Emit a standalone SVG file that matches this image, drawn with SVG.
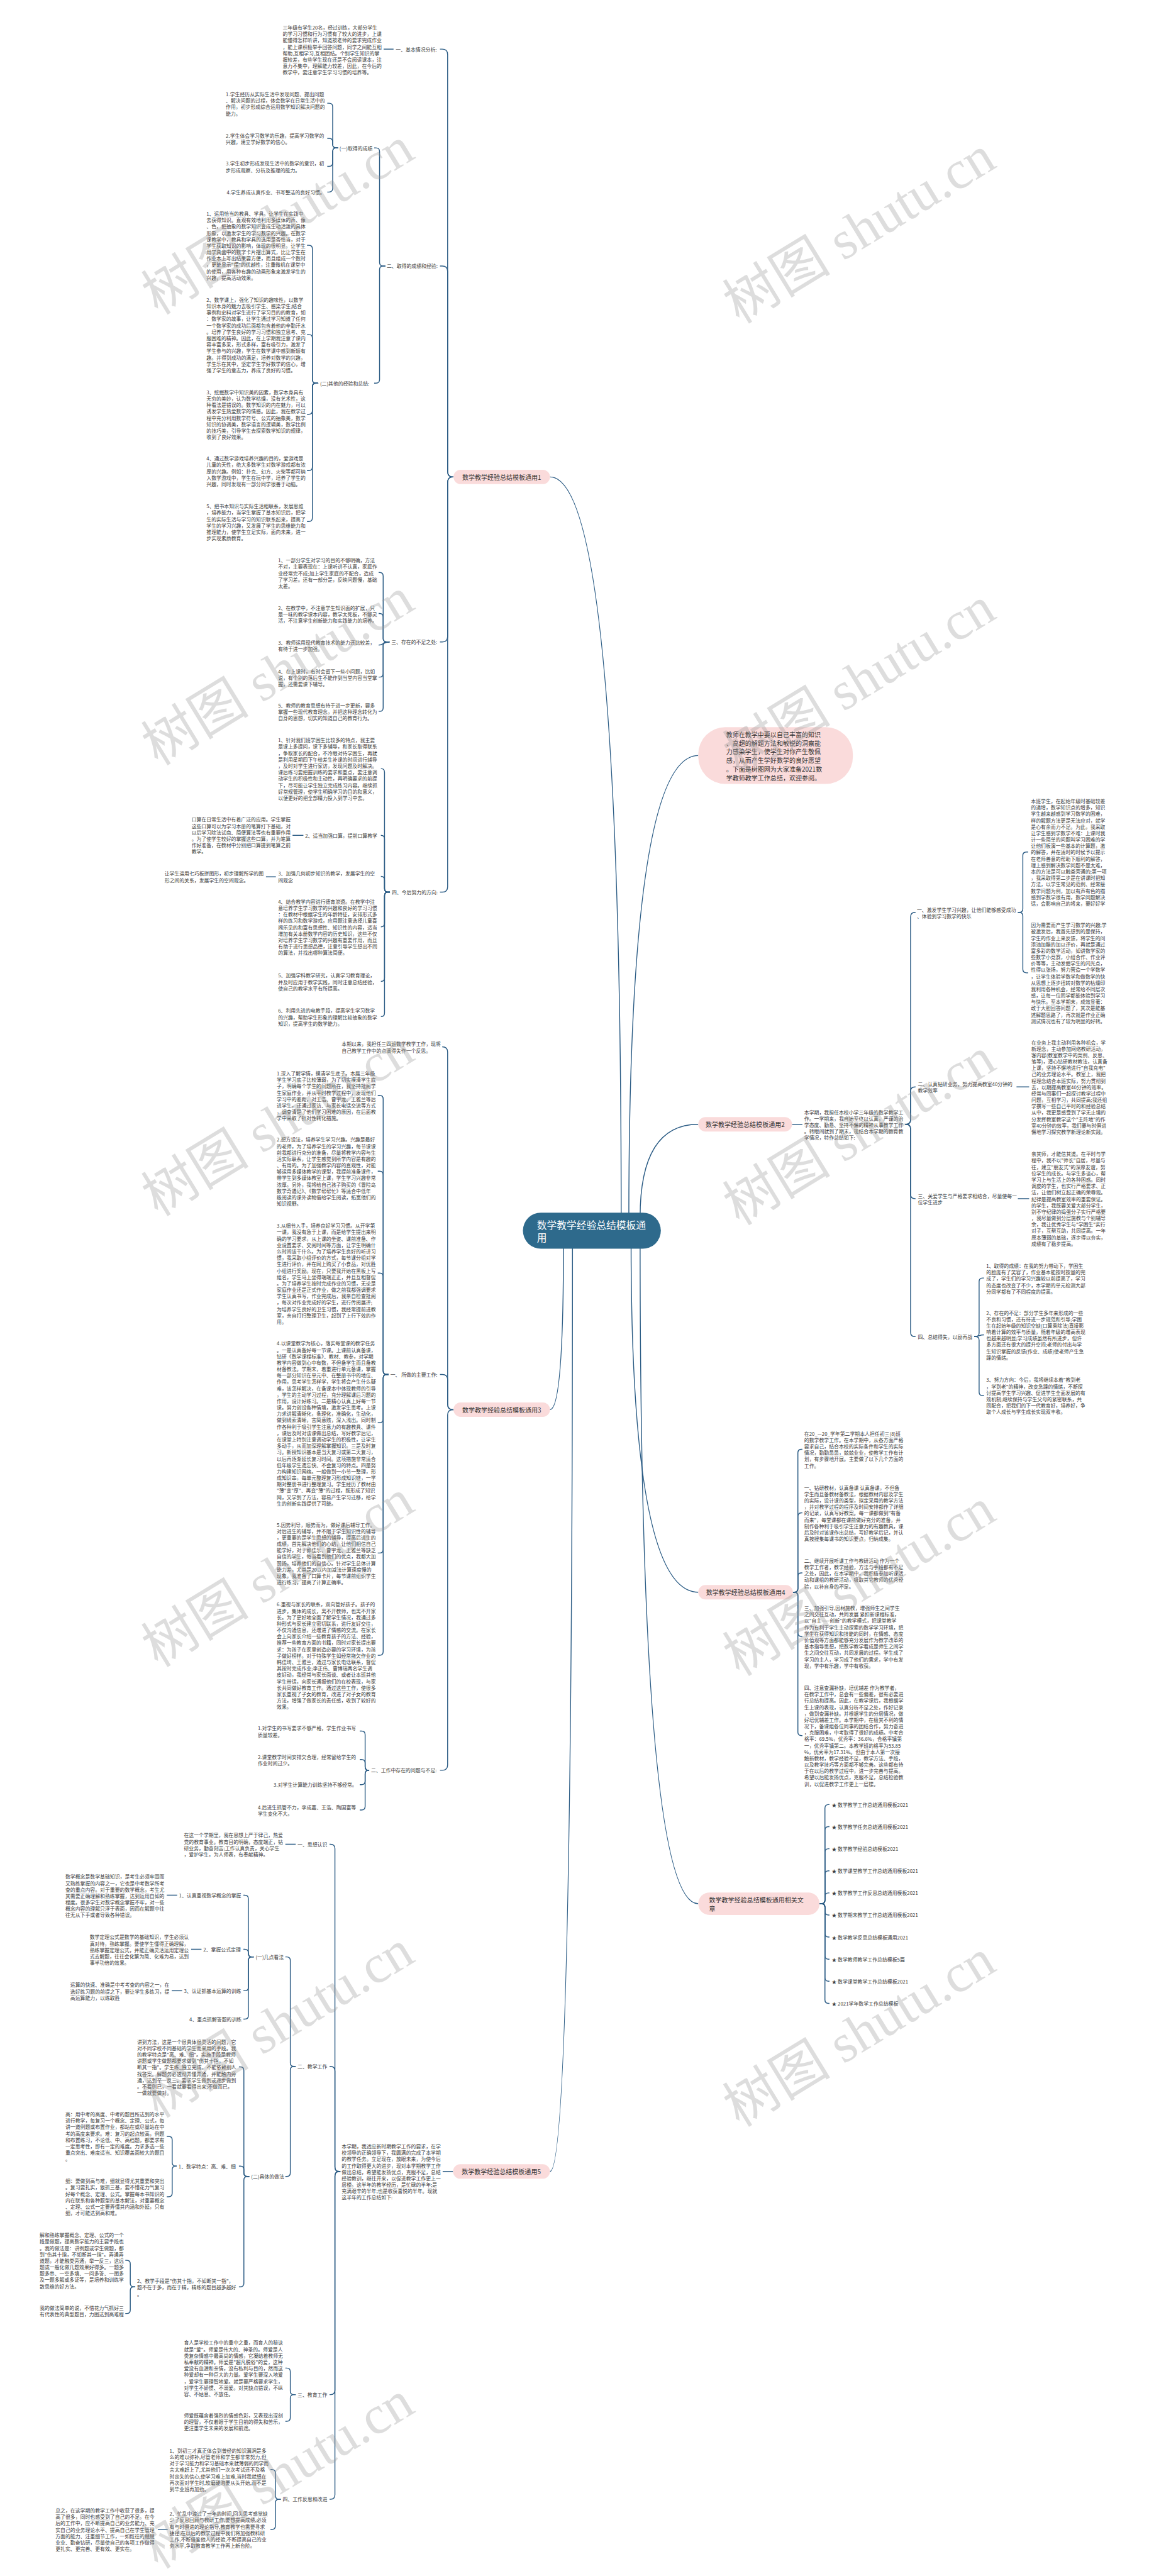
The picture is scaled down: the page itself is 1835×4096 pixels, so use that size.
<svg xmlns="http://www.w3.org/2000/svg" width="1835" height="4096" viewBox="0 0 1835 4096">
<style>
.t{font-family:"Noto Sans CJK SC","Noto Sans",sans-serif;font-size:11px;fill:#3a3a3a;dominant-baseline:central}
.pt{font-family:"Noto Sans CJK SC","Noto Sans",sans-serif;font-size:14px;fill:#333;dominant-baseline:central}
.rt{font-family:"Noto Sans CJK SC","Noto Sans",sans-serif;font-size:22px;fill:#fff;dominant-baseline:central}
.pill{fill:#fadbdb}
.l{fill:none;stroke:#2a5b84;stroke-width:2}
.wm{font-family:"Liberation Serif","Noto Sans CJK SC",serif;font-size:120px;fill:#9a9a9a;opacity:0.33}
</style>
<rect width="1835" height="4096" fill="#fff"/>
<g transform="scale(0.7168)">
<g id="connectors">
<path class="l" d="M1378 2700 Q1378 1058 1220 1058"/>
<path class="l" d="M1395 2700 Q1395 1676 1549 1676"/>
<path class="l" d="M1420 2700 Q1420 2494 1549 2494"/>
<path class="l" d="M1250 2760 Q1250 3127 1220 3127"/>
<path class="l" d="M1270 2760 Q1270 4817 1220 4817"/>
<path class="l" d="M1400 2760 Q1400 3532 1549 3532"/>
<path class="l" d="M1420 2760 Q1420 4223 1549 4223"/>
<path class="l" d="M1006 1058 H1005 Q993 1058 993 1046 V121 Q993 109 981 109 H976"/>
<path class="l" d="M1006 1058 H1005 Q993 1058 993 1046 V602 Q993 590 981 590 H976"/>
<path class="l" d="M1006 1058 H1005 Q993 1058 993 1070 V1412 Q993 1424 981 1424 H976"/>
<path class="l" d="M1006 1058 H1005 Q993 1058 993 1070 V1967 Q993 1979 981 1979 H976"/>
<path class="l" d="M873 109 H851"/>
<path class="l" d="M855 590 H850 Q842 590 842 582 V336 Q842 328 834 328 H830"/>
<path class="l" d="M855 590 H850 Q842 590 842 598 V842 Q842 850 834 850 H830"/>
<path class="l" d="M750 328 H746 Q738 328 738 320 V237 Q738 229 730 229 H726"/>
<path class="l" d="M750 328 H746 Q738 328 738 320 V315 Q738 307 730 307 H726"/>
<path class="l" d="M750 328 H746 Q738 328 738 336 V361 Q738 369 730 369 H726"/>
<path class="l" d="M750 328 H746 Q738 328 738 336 V418 Q738 426 730 426 H726"/>
<path class="l" d="M706 850 H701 Q693 850 693 842 V552 Q693 544 685 544 H681"/>
<path class="l" d="M706 850 H701 Q693 850 693 842 V750 Q693 742 685 742 H681"/>
<path class="l" d="M706 850 H701 Q693 850 693 858 V911 Q693 919 685 919 H681"/>
<path class="l" d="M706 850 H701 Q693 850 693 858 V1036 Q693 1044 685 1044 H681"/>
<path class="l" d="M706 850 H701 Q693 850 693 858 V1149 Q693 1157 685 1157 H681"/>
<path class="l" d="M864 1424 H858 Q850 1424 850 1416 V1278 Q850 1270 842 1270 H840"/>
<path class="l" d="M864 1424 H858 Q850 1424 850 1416 V1369 Q850 1361 842 1361 H840"/>
<path class="l" d="M864 1424 C850 1424 850 1431 840 1431"/>
<path class="l" d="M864 1424 H858 Q850 1424 850 1432 V1494 Q850 1502 842 1502 H840"/>
<path class="l" d="M864 1424 H858 Q850 1424 850 1432 V1570 Q850 1578 842 1578 H840"/>
<path class="l" d="M865 1979 H861 Q853 1979 853 1971 V1713 Q853 1705 845 1705"/>
<path class="l" d="M865 1979 H861 Q853 1979 853 1971 V1861 Q853 1853 845 1853"/>
<path class="l" d="M865 1979 H861 Q853 1979 853 1971 V1952 Q853 1944 845 1944"/>
<path class="l" d="M865 1979 H861 Q853 1979 853 1987 V2048 Q853 2056 845 2056"/>
<path class="l" d="M865 1979 H861 Q853 1979 853 1987 V2169 Q853 2177 845 2177"/>
<path class="l" d="M865 1979 H861 Q853 1979 853 1987 V2247 Q853 2255 845 2255"/>
<path class="l" d="M673 1853 H649"/>
<path class="l" d="M612 1945 H590"/>
<path class="l" d="M1006 3127 H1005 Q993 3127 993 3115 V2334 Q993 2322 981 2322"/>
<path class="l" d="M1006 3127 H1005 Q993 3127 993 3115 V3061 Q993 3049 981 3049 H976"/>
<path class="l" d="M1006 3127 H1005 Q993 3127 993 3139 V3915 Q993 3927 981 3927 H976"/>
<path class="l" d="M862 3049 H858 Q850 3049 850 3041 V2438 Q850 2430 842 2430 H838"/>
<path class="l" d="M862 3049 H858 Q850 3049 850 3041 V2606 Q850 2598 842 2598 H838"/>
<path class="l" d="M862 3049 H858 Q850 3049 850 3041 V2832 Q850 2824 842 2824 H838"/>
<path class="l" d="M862 3049 H858 Q850 3049 850 3057 V3148 Q850 3156 842 3156 H838"/>
<path class="l" d="M862 3049 H858 Q850 3049 850 3057 V3437 Q850 3445 842 3445 H838"/>
<path class="l" d="M862 3049 H858 Q850 3049 850 3057 V3664 Q850 3672 842 3672 H838"/>
<path class="l" d="M819 3927 H818 Q810 3927 810 3919 V3848 Q810 3840 802 3840 H798"/>
<path class="l" d="M819 3927 H818 Q810 3927 810 3919 V3911 Q810 3903 802 3903 H798"/>
<path class="l" d="M819 3927 H818 Q810 3927 810 3935 V3951 Q810 3959 802 3959 H798"/>
<path class="l" d="M819 3927 H818 Q810 3927 810 3935 V4007 Q810 4015 802 4015 H798"/>
<path class="l" d="M1005 4817 H982"/>
<path class="l" d="M755 4817 H753 Q743 4817 743 4807 V4101 Q743 4091 733 4091 H731"/>
<path class="l" d="M755 4817 H753 Q743 4817 743 4807 V4594 Q743 4584 733 4584 H731"/>
<path class="l" d="M755 4817 H753 Q743 4817 743 4827 V5302 Q743 5312 733 5312 H731"/>
<path class="l" d="M755 4817 H753 Q743 4817 743 4827 V5534 Q743 5544 733 5544 H731"/>
<path class="l" d="M656 4091 H633"/>
<path class="l" d="M656 4584 H652 Q644 4584 644 4576 V4349 Q644 4341 636 4341 H633"/>
<path class="l" d="M656 4584 H652 Q644 4584 644 4592 V4820 Q644 4828 636 4828 H633"/>
<path class="l" d="M563 4341 H559 Q551 4341 551 4333 V4212 Q551 4204 543 4204 H540"/>
<path class="l" d="M563 4341 H559 Q551 4341 551 4333 V4332 Q551 4324 543 4324 H540"/>
<path class="l" d="M563 4341 H559 Q551 4341 551 4349 V4408 Q551 4416 543 4416 H540"/>
<path class="l" d="M563 4341 H559 Q551 4341 551 4349 V4471 Q551 4479 543 4479 H540"/>
<path class="l" d="M393 4204 H370"/>
<path class="l" d="M447 4324 H424"/>
<path class="l" d="M404 4416 H381"/>
<path class="l" d="M553 4828 H549 Q541 4828 541 4820 V4593 Q541 4585 533 4585 H530"/>
<path class="l" d="M553 4828 H549 Q541 4828 541 4820 V4813 Q541 4805 533 4805 H530"/>
<path class="l" d="M553 4828 H549 Q541 4828 541 4836 V5065 Q541 5073 533 5073 H530"/>
<path class="l" d="M392 4805 H390 Q382 4805 382 4797 V4747 Q382 4739 374 4739 H370"/>
<path class="l" d="M392 4805 H390 Q382 4805 382 4813 V4865 Q382 4873 374 4873 H370"/>
<path class="l" d="M300 5073 H297 Q289 5073 289 5065 V5022 Q289 5014 281 5014 H278"/>
<path class="l" d="M300 5073 H297 Q289 5073 289 5081 V5124 Q289 5132 281 5132 H278"/>
<path class="l" d="M656 5312 H652 Q644 5312 644 5304 V5261 Q644 5253 636 5253 H633"/>
<path class="l" d="M656 5312 H652 Q644 5312 644 5320 V5363 Q644 5371 636 5371 H633"/>
<path class="l" d="M623 5544 H619 Q611 5544 611 5536 V5486 Q611 5478 603 5478 H600"/>
<path class="l" d="M623 5544 H619 Q611 5544 611 5552 V5603 Q611 5611 603 5611 H600"/>
<path class="l" d="M372 5611 H350"/>
<path class="l" d="M1757 2494 H1780"/>
<path class="l" d="M2008 2494 H2010 Q2020 2494 2020 2484 V2034 Q2020 2024 2030 2024 H2031"/>
<path class="l" d="M2008 2494 H2010 Q2020 2494 2020 2484 V2421 Q2020 2411 2030 2411 H2031"/>
<path class="l" d="M2008 2494 H2010 Q2020 2494 2020 2504 V2649 Q2020 2659 2030 2659 H2031"/>
<path class="l" d="M2008 2494 H2010 Q2020 2494 2020 2504 V2955 Q2020 2965 2030 2965 H2031"/>
<path class="l" d="M2258 2024 H2261 Q2269 2024 2269 2016 V1898 Q2269 1890 2277 1890 H2281"/>
<path class="l" d="M2258 2024 H2261 Q2269 2024 2269 2032 V2150 Q2269 2158 2277 2158 H2281"/>
<path class="l" d="M2255 2411 H2283"/>
<path class="l" d="M2258 2659 H2283"/>
<path class="l" d="M2161 2965 H2164 Q2172 2965 2172 2957 V2843 Q2172 2835 2180 2835 H2183"/>
<path class="l" d="M2161 2965 C2172 2965 2172 2961 2183 2961"/>
<path class="l" d="M2161 2965 H2164 Q2172 2965 2172 2973 V3088 Q2172 3096 2180 3096 H2183"/>
<path class="l" d="M1759 3532 H1762 Q1770 3532 1770 3524 V3223 Q1770 3215 1778 3215 H1780"/>
<path class="l" d="M1759 3532 H1762 Q1770 3532 1770 3524 V3364 Q1770 3356 1778 3356 H1780"/>
<path class="l" d="M1759 3532 H1762 Q1770 3532 1770 3524 V3497 Q1770 3489 1778 3489 H1780"/>
<path class="l" d="M1759 3532 H1762 Q1770 3532 1770 3540 V3622 Q1770 3630 1778 3630 H1780"/>
<path class="l" d="M1759 3532 H1762 Q1770 3532 1770 3540 V3842 Q1770 3850 1778 3850 H1780"/>
<path class="l" d="M1818 4223 H1822 Q1830 4223 1830 4215 V4011 Q1830 4003 1838 4003 H1840"/>
<path class="l" d="M1818 4223 H1822 Q1830 4223 1830 4215 V4060 Q1830 4052 1838 4052 H1840"/>
<path class="l" d="M1818 4223 H1822 Q1830 4223 1830 4215 V4109 Q1830 4101 1838 4101 H1840"/>
<path class="l" d="M1818 4223 H1822 Q1830 4223 1830 4215 V4158 Q1830 4150 1838 4150 H1840"/>
<path class="l" d="M1818 4223 H1822 Q1830 4223 1830 4215 V4207 Q1830 4199 1838 4199 H1840"/>
<path class="l" d="M1818 4223 H1822 Q1830 4223 1830 4231 V4240 Q1830 4248 1838 4248 H1840"/>
<path class="l" d="M1818 4223 H1822 Q1830 4223 1830 4231 V4289 Q1830 4297 1838 4297 H1840"/>
<path class="l" d="M1818 4223 H1822 Q1830 4223 1830 4231 V4338 Q1830 4346 1838 4346 H1840"/>
<path class="l" d="M1818 4223 H1822 Q1830 4223 1830 4231 V4387 Q1830 4395 1838 4395 H1840"/>
<path class="l" d="M1818 4223 H1822 Q1830 4223 1830 4231 V4436 Q1830 4444 1838 4444 H1840"/>
</g>

<g id="n-root"><rect x="1160" y="2690" width="306" height="80" rx="40" fill="#2e6a8c"/><text class="rt" x="1191" y="2716"><tspan x="1191">数学教学经验总结模板通</tspan><tspan x="1191" dy="28">用</tspan></text></g>

<g id="n-p1"><rect class="pill" x="1006" y="1042" width="214" height="32" rx="16"/><text class="pt" x="1113" y="1058" text-anchor="middle">数学教学经验总结模板通用1</text></g>
<g id="n-p1-a"><text class="t" x="878" y="109">一、基本情况分析:</text></g>
<g id="n-p1-a1"><text class="t" x="627" y="60"><tspan x="627">三年级有学生20名，经过训练，大部分学生</tspan><tspan x="627" dy="14.2">的学习习惯和行为习惯有了较大的进步，上课</tspan><tspan x="627" dy="14.2">能懂得怎样听讲，知道按老师的要求完成作业</tspan><tspan x="627" dy="14.2">，能上课积极举手回答问题，同学之间能互相</tspan><tspan x="627" dy="14.2">帮助,互相学习,互相团结。个别学生知识的掌</tspan><tspan x="627" dy="14.2">握较差，有些学生现在还是不会阅读课本，注</tspan><tspan x="627" dy="14.2">意力不集中，理解能力较差，因此，在今后的</tspan><tspan x="627" dy="14.2">教学中，要注意学生学习习惯的培养等。</tspan></text></g>
<g id="n-p1-b"><text class="t" x="858" y="590">二、取得的成绩和经验:</text></g>
<g id="n-p1-b1"><text class="t" x="753" y="328">(一)取得的成绩</text></g>
<g id="n-p1-b1-1"><text class="t" x="501" y="208"><tspan x="501">1.学生经历从实际生活中发现问题、提出问题</tspan><tspan x="501" dy="14.2">、解决问题的过程，体会数学在日常生活中的</tspan><tspan x="501" dy="14.2">作用，初步形成综合运用数学知识解决问题的</tspan><tspan x="501" dy="14.2">能力。</tspan></text></g>
<g id="n-p1-b1-2"><text class="t" x="501" y="300"><tspan x="501">2.学生体会学习数学的乐趣，提高学习数学的</tspan><tspan x="501" dy="14.2">兴趣，建立学好数学的信心。</tspan></text></g>
<g id="n-p1-b1-3"><text class="t" x="501" y="362"><tspan x="501">3.学生初步形成发现生活中的数学的意识，初</tspan><tspan x="501" dy="14.2">步形成观察、分析及推理的能力。</tspan></text></g>
<g id="n-p1-b1-4"><text class="t" x="503" y="426">4.学生养成认真作业、书写整洁的良好习惯。</text></g>
<g id="n-p1-b2"><text class="t" x="710" y="850">(二)其他的经验和总结:</text></g>
<g id="n-p1-b2-1"><text class="t" x="458" y="473"><tspan x="458">1、运用恰当的教具、学具。让学生在实践中</tspan><tspan x="458" dy="14.2">去获得知识。直观有效地利用多媒体的声、像</tspan><tspan x="458" dy="14.2">、色，把抽象的数学知识变成生动活泼的具体</tspan><tspan x="458" dy="14.2">形象，以激发学生的学习数学的兴趣。在数学</tspan><tspan x="458" dy="14.2">课教学中，教具和学具的选用是否恰当，对于</tspan><tspan x="458" dy="14.2">学生获取知识的影响，体现的很明显。让学生</tspan><tspan x="458" dy="14.2">用学具盒中的数字卡片摆出算式，比让学生在</tspan><tspan x="458" dy="14.2">作业本上写出结果要方便，而且组成一个数时</tspan><tspan x="458" dy="14.2">，更能显示"摆"的优越性，注重微机在课堂中</tspan><tspan x="458" dy="14.2">的使用，用各种有趣的动画形象来激发学生的</tspan><tspan x="458" dy="14.2">兴趣，提高活动效果。</tspan></text></g>
<g id="n-p1-b2-2"><text class="t" x="458" y="664"><tspan x="458">2、数学课上，强化了知识的趣味性，以数学</tspan><tspan x="458" dy="14.2">知识本身的魅力去吸引学生、感染学生;结合</tspan><tspan x="458" dy="14.2">事例和史料对学生进行了学习目的的教育，如</tspan><tspan x="458" dy="14.2">：数学家的故事，让学生通过学习知道了任何</tspan><tspan x="458" dy="14.2">一个数学家的成功后面都包含着他的辛勤汗水</tspan><tspan x="458" dy="14.2">。培养了学生良好的学习习惯和独立思考、克</tspan><tspan x="458" dy="14.2">服困难的精神。因此，在上学期我注意了课内</tspan><tspan x="458" dy="14.2">容丰富多采，形式多样，富有吸引力，激发了</tspan><tspan x="458" dy="14.2">学生参与的兴趣，学生在数学课中感到新颖有</tspan><tspan x="458" dy="14.2">趣。并得到成功的满足，培养对数学的兴趣，</tspan><tspan x="458" dy="14.2">学生乐在其中，坚定学生学好数学的信心，增</tspan><tspan x="458" dy="14.2">强了学生的意志力，养成了良好的习惯。</tspan></text></g>
<g id="n-p1-b2-3"><text class="t" x="458" y="869"><tspan x="458">3、挖掘数学中知识美的因素，数学本身具有</tspan><tspan x="458" dy="14.2">无穷的美妙，认为数学枯燥，没有艺术性，这</tspan><tspan x="458" dy="14.2">种看法是错误的。数学知识的内在魅力，可以</tspan><tspan x="458" dy="14.2">诱发学生热爱数学的情感。因此，我在教学过</tspan><tspan x="458" dy="14.2">程中充分利用数学符号、公式的抽象美，数学</tspan><tspan x="458" dy="14.2">知识的协调美，数学语言的逻辑美，数学比例</tspan><tspan x="458" dy="14.2">的技巧美，引导学生去探索数学知识的规律，</tspan><tspan x="458" dy="14.2">收到了良好效果。</tspan></text></g>
<g id="n-p1-b2-4"><text class="t" x="458" y="1016"><tspan x="458">4、通过数学游戏培养兴趣的目的，爱游戏是</tspan><tspan x="458" dy="14.2">儿童的天性，绝大多数学生对数学游戏都有浓</tspan><tspan x="458" dy="14.2">厚的兴趣。例如：扑克、幻方、火柴等都可纳</tspan><tspan x="458" dy="14.2">入数学游戏中，学生在玩中学，培养了学生的</tspan><tspan x="458" dy="14.2">兴趣，同时发现有一部分同学很善于动脑。</tspan></text></g>
<g id="n-p1-b2-5"><text class="t" x="458" y="1122"><tspan x="458">5、把书本知识与实际生活相联系，发展思维</tspan><tspan x="458" dy="14.2">，培养能力，当学生掌握了基本知识后，把学</tspan><tspan x="458" dy="14.2">生的实际生活与学习的知识联系起来，提高了</tspan><tspan x="458" dy="14.2">学生的学习兴趣，又发展了学生的思维能力和</tspan><tspan x="458" dy="14.2">推理能力，使学生立足实际，面向未来，进一</tspan><tspan x="458" dy="14.2">步实现素质教育。</tspan></text></g>
<g id="n-p1-c"><text class="t" x="868" y="1424">三、存在的不足之处:</text></g>
<g id="n-p1-c1"><text class="t" x="617" y="1242"><tspan x="617">1、一部分学生对学习的目的不够明确，方法</tspan><tspan x="617" dy="14.2">不对，主要表现在：上课听讲不认真，家庭作</tspan><tspan x="617" dy="14.2">业经常完不成;加上学生家庭的不配合，造成</tspan><tspan x="617" dy="14.2">了学习差。还有一部分是，反映问题慢，基础</tspan><tspan x="617" dy="14.2">太差。</tspan></text></g>
<g id="n-p1-c2"><text class="t" x="617" y="1347"><tspan x="617">2、在教学中，不注意学生知识面的扩展，只</tspan><tspan x="617" dy="14.2">是一味的教学课本内容，教学太死板，不够灵</tspan><tspan x="617" dy="14.2">活，不注意学生创新能力和实践能力的培养。</tspan></text></g>
<g id="n-p1-c3"><text class="t" x="617" y="1424"><tspan x="617">3、教师运用现代教育技术的能力还比较差，</tspan><tspan x="617" dy="14.2">有待于进一步加强。</tspan></text></g>
<g id="n-p1-c4"><text class="t" x="617" y="1488"><tspan x="617">4、在上课时，有时会留下一些小问题，比如</tspan><tspan x="617" dy="14.2">说，有个别的落后生不能作到当堂内容当堂掌</tspan><tspan x="617" dy="14.2">握，还需要课下辅导。</tspan></text></g>
<g id="n-p1-c5"><text class="t" x="617" y="1564"><tspan x="617">5、教师的教育思想有待于进一步更新，要多</tspan><tspan x="617" dy="14.2">掌握一些现代教育理念，并把这种理念转化为</tspan><tspan x="617" dy="14.2">自身的思想，切实的知道自己的教育行为。</tspan></text></g>
<g id="n-p1-d"><text class="t" x="869" y="1979">四、今后努力的方向:</text></g>
<g id="n-p1-d1"><text class="t" x="617" y="1641"><tspan x="617">1、针对我们班学困生比较多的特点，我主要</tspan><tspan x="617" dy="14.2">是课上多提问，课下多辅导，和家长取得联系</tspan><tspan x="617" dy="14.2">，争取家长的配合，不冷眼对待学困生，再就</tspan><tspan x="617" dy="14.2">是利用星期四下午给差生补课的时间进行辅导</tspan><tspan x="617" dy="14.2">，及时对学生进行家访，发现问题及时解决。</tspan><tspan x="617" dy="14.2">课后练习要把握训练的要求和重点，要注意调</tspan><tspan x="617" dy="14.2">动学生的积极性和主动性，再明确要求的前提</tspan><tspan x="617" dy="14.2">下，尽可能让学生独立完成练习内容。继续抓</tspan><tspan x="617" dy="14.2">好常规管理，使学生明确学习的目的和意义，</tspan><tspan x="617" dy="14.2">以便更好的把全部精力投入到学习中去。</tspan></text></g>
<g id="n-p1-d2"><text class="t" x="677" y="1853">2、适当加强口算，提前口算教学</text></g>
<g id="n-p1-d2a"><text class="t" x="425" y="1817"><tspan x="425">口算在日常生活中有着广泛的应用。学生掌握</tspan><tspan x="425" dy="14.2">这些口算可以为学习本册的笔算打下基础，对</tspan><tspan x="425" dy="14.2">以后学习除法试商、简便算法等也有重要作用</tspan><tspan x="425" dy="14.2">。为了使学生较好的掌握这些口算，并为笔算</tspan><tspan x="425" dy="14.2">作好准备，在教材中分别把口算提到笔算之前</tspan><tspan x="425" dy="14.2">教学。</tspan></text></g>
<g id="n-p1-d3"><text class="t" x="617" y="1937"><tspan x="617">3、加强几何初步知识的教学，发展学生的空</tspan><tspan x="617" dy="14.2">间观念</tspan></text></g>
<g id="n-p1-d3a"><text class="t" x="365" y="1937"><tspan x="365">让学生运用七巧板拼图形，初步理解所学的图</tspan><tspan x="365" dy="14.2">形之间的关系，发展学生的空间观念。</tspan></text></g>
<g id="n-p1-d4"><text class="t" x="617" y="1999"><tspan x="617">4、结合教学内容进行德育渗透。在教学中注</tspan><tspan x="617" dy="14.2">意培养学生学习数学的兴趣和良好的学习习惯</tspan><tspan x="617" dy="14.2">：在教材中根据学生的年龄特征，安排形式多</tspan><tspan x="617" dy="14.2">样的练习和数学游戏，应用题注意选择儿童喜</tspan><tspan x="617" dy="14.2">闻乐见的和富有思想性、知识性的内容，适当</tspan><tspan x="617" dy="14.2">增加有关本册数学内容的历史知识，这些不仅</tspan><tspan x="617" dy="14.2">对培养学生学习数学的兴趣有重要作用，而且</tspan><tspan x="617" dy="14.2">有助于进行思想品德，注意引导学生想出不同</tspan><tspan x="617" dy="14.2">的算法，并找出哪种算法简便。</tspan></text></g>
<g id="n-p1-d5"><text class="t" x="617" y="2163"><tspan x="617">5、加强学科教学研究，认真学习教育理论，</tspan><tspan x="617" dy="14.2">并及时应用于教学实践，同时注意总结经验，</tspan><tspan x="617" dy="14.2">使自己的教学水平有所提高。</tspan></text></g>
<g id="n-p1-d6"><text class="t" x="617" y="2241"><tspan x="617">6、利用先进的电教手段，提高学生学习数学</tspan><tspan x="617" dy="14.2">的兴趣，帮助学生形象的理解比较抽象的数学</tspan><tspan x="617" dy="14.2">知识，提高学生的数学能力。</tspan></text></g>

<g id="n-p3"><rect class="pill" x="1006" y="3111" width="214" height="32" rx="16"/><text class="pt" x="1113" y="3127" text-anchor="middle">数学教学经验总结模板通用3</text></g>
<g id="n-p3-e"><text class="t" x="758" y="2315"><tspan x="758">本期以来，我担任三四班数学教学工作，现将</tspan><tspan x="758" dy="14.2">自己教学工作中的点滴得失作一个反思。</tspan></text></g>
<g id="n-p3-f"><text class="t" x="866" y="3049">一、 所做的主要工作:</text></g>
<g id="n-p3-f1"><text class="t" x="614" y="2380"><tspan x="614">1.深入了解学情，摸清学生底子。本届三年级</tspan><tspan x="614" dy="14.2">学生学习底子比较薄弱，为了切实摸清学生底</tspan><tspan x="614" dy="14.2">子，明确每个学生的问题所在，我坚持批阅学</tspan><tspan x="614" dy="14.2">生家庭作业，并从平时教学过程中，发现他们</tspan><tspan x="614" dy="14.2">学习中的差距，对王浩、曹宇龙、王雅兰等后</tspan><tspan x="614" dy="14.2">进学生，还通过家访、与家长电话交流等方式</tspan><tspan x="614" dy="14.2">，调查清楚了他们学习困难的原因，在后面教</tspan><tspan x="614" dy="14.2">学中采取了针对性转化措施。</tspan></text></g>
<g id="n-p3-f2"><text class="t" x="614" y="2527"><tspan x="614">2.想方设法，培养学生学习兴趣。兴趣是最好</tspan><tspan x="614" dy="14.2">的老师，为了培养学生的学习兴趣，每节课课</tspan><tspan x="614" dy="14.2">前我都进行充分的准备，尽量将教学内容与生</tspan><tspan x="614" dy="14.2">活实际联系，让学生感觉到所学内容是有趣的</tspan><tspan x="614" dy="14.2">、有用的。为了加强教学内容的直观性，对能</tspan><tspan x="614" dy="14.2">够运用多媒体教学的课型，我提前准备课件，</tspan><tspan x="614" dy="14.2">带学生到多媒体教室上课，学生学习兴趣非常</tspan><tspan x="614" dy="14.2">浓厚。另外，我将给自己孩子购买的《冒险岛</tspan><tspan x="614" dy="14.2">数学奇遇记》、《数学帮帮忙》等适合中低年</tspan><tspan x="614" dy="14.2">级阅读的课外读物借给学生阅读，拓宽他们的</tspan><tspan x="614" dy="14.2">知识视野。</tspan></text></g>
<g id="n-p3-f3"><text class="t" x="614" y="2718"><tspan x="614">3.从细节入手，培养良好学习习惯。从开学第</tspan><tspan x="614" dy="14.2">一课，我没有急于上课，而是给学生提出来明</tspan><tspan x="614" dy="14.2">确的学习要求，从上课的坐姿、课前准备、作</tspan><tspan x="614" dy="14.2">业设置要求、交阅时间等方面，让学生明确什</tspan><tspan x="614" dy="14.2">么时间该干什么。为了培养学生良好的听讲习</tspan><tspan x="614" dy="14.2">惯，我采取小组评价的方式，每节课分组对学</tspan><tspan x="614" dy="14.2">生进行评价，并在网上购买了小食品，对优胜</tspan><tspan x="614" dy="14.2">小组进行奖励。现在，只要我开始在黑板上写</tspan><tspan x="614" dy="14.2">组名，学生马上坐得端端正正，并且互相督促</tspan><tspan x="614" dy="14.2">。为了培养学生按时完成作业的习惯，无论是</tspan><tspan x="614" dy="14.2">家庭作业还是正式作业，做之前我都强调要求</tspan><tspan x="614" dy="14.2">学生认真书写，作业完成后，我亲自检查批阅</tspan><tspan x="614" dy="14.2">，每次对作业完成好的学生，进行传阅展评;</tspan><tspan x="614" dy="14.2">为培养学生良好的卫生习惯，我经常提前进教</tspan><tspan x="614" dy="14.2">室，亲自打扫整理卫生，起到了上行下效的作</tspan><tspan x="614" dy="14.2">用。</tspan></text></g>
<g id="n-p3-f4"><text class="t" x="614" y="2979"><tspan x="614">4.以课堂教学为核心，落实每堂课的教学任务</tspan><tspan x="614" dy="14.2">。一是认真备好每一节课。上课前认真备课，</tspan><tspan x="614" dy="14.2">钻研《数学课程标准》、教材、教参，对学期</tspan><tspan x="614" dy="14.2">教学内容做到心中有数，不但备学生而且备教</tspan><tspan x="614" dy="14.2">材备教法。学期末，着重进行单元备课，掌握</tspan><tspan x="614" dy="14.2">每一部分知识在单元中、在整册书中的地位、</tspan><tspan x="614" dy="14.2">作用，思考学生怎样学，学生将会产生什么疑</tspan><tspan x="614" dy="14.2">难，该怎样解决，在备课本中体现教师的引导</tspan><tspan x="614" dy="14.2">，学生的主动学习过程，充分理解课后习题的</tspan><tspan x="614" dy="14.2">作用，设计好练习。二是精心认真上好每一节</tspan><tspan x="614" dy="14.2">课。努力创设各种情境，激发学生思考。上课</tspan><tspan x="614" dy="14.2">力求讲解清晰化，条理化，准确化，生动化，</tspan><tspan x="614" dy="14.2">做到线索清晰，言简意赅，深入浅出。同时制</tspan><tspan x="614" dy="14.2">作各种利于吸引学生注意力的有趣教具、课件</tspan><tspan x="614" dy="14.2">，课后及时对该课做出总结，写好教学后记，</tspan><tspan x="614" dy="14.2">在课堂上特别注意调动学生的积极性，让学生</tspan><tspan x="614" dy="14.2">多动手，从而加深理解掌握知识。三是及时复</tspan><tspan x="614" dy="14.2">习。新授知识基本是当天复习或第二天复习，</tspan><tspan x="614" dy="14.2">以后再逐渐延长复习时间。这项措施非常适合</tspan><tspan x="614" dy="14.2">低年级学生遗忘快、不会复习的特点。四是努</tspan><tspan x="614" dy="14.2">力构建知识网络。一般做到一小节一整理，形</tspan><tspan x="614" dy="14.2">成知识串，每单元整理复习形成知识链，一学</tspan><tspan x="614" dy="14.2">期对整册书进行整理复习。学生经历了教材由</tspan><tspan x="614" dy="14.2">"薄"变"厚"、再变"薄"的过程，既形成了知识</tspan><tspan x="614" dy="14.2">网，又学到了方法，容易产生学习迁移，给学</tspan><tspan x="614" dy="14.2">生的创新实践提供了可能。</tspan></text></g>
<g id="n-p3-f5"><text class="t" x="614" y="3381"><tspan x="614">5.因势利导，顺势而为，做好课后辅导工作。</tspan><tspan x="614" dy="14.2">对后进生的辅导，并不限于学生知识性的辅导</tspan><tspan x="614" dy="14.2">，更重要的是学生思想的辅导，提高后进生的</tspan><tspan x="614" dy="14.2">成绩，首先解决他们的心结，让他们相信自己</tspan><tspan x="614" dy="14.2">能学好，对于郭佳乐、曹宇龙、王雅兰等缺乏</tspan><tspan x="614" dy="14.2">自信的学生，每当看到他们的优点，我都大加</tspan><tspan x="614" dy="14.2">赞扬，培养他们的自信心。针对学生总体计算</tspan><tspan x="614" dy="14.2">能力差，尤其是20以内加减法计算速度慢的</tspan><tspan x="614" dy="14.2">现象，我准备了口算卡片，每节课前组织学生</tspan><tspan x="614" dy="14.2">进行练习，提高了计算正确率。</tspan></text></g>
<g id="n-p3-f6"><text class="t" x="614" y="3558"><tspan x="614">6.重视与家长的联系，双向管好孩子。孩子的</tspan><tspan x="614" dy="14.2">进步，集体的成长，离不开教师，也离不开家</tspan><tspan x="614" dy="14.2">长。为了更好地全面了解学生情况，我通过多</tspan><tspan x="614" dy="14.2">种形式与家长建立密切联系，进行友好交往，</tspan><tspan x="614" dy="14.2">不仅沟通信息，还增进了情感的交流。在家长</tspan><tspan x="614" dy="14.2">会上向家长介绍一些教育孩子的方法、经验，</tspan><tspan x="614" dy="14.2">推荐一些教育方面的书籍，同时对家长提出要</tspan><tspan x="614" dy="14.2">求：为孩子在家里创造必要的学习环境，为孩</tspan><tspan x="614" dy="14.2">子做好榜样。对于特殊学生如经常拖欠作业的</tspan><tspan x="614" dy="14.2">韩佳琦、王雅兰，通过与家长电话联系，督促</tspan><tspan x="614" dy="14.2">其按时完成作业;李正伟、曹博瑞两名学生调</tspan><tspan x="614" dy="14.2">皮好动，我经常与家长面谈、或者让本班其他</tspan><tspan x="614" dy="14.2">学生带话，向家长通报他们的在校表现，与家</tspan><tspan x="614" dy="14.2">长共同做好教育工作。通过这些工作，使很多</tspan><tspan x="614" dy="14.2">家长重视了子女的教育，改进了对子女的教育</tspan><tspan x="614" dy="14.2">方法，增强了做家长的责任感，收到了较好的</tspan><tspan x="614" dy="14.2">效果。</tspan></text></g>
<g id="n-p3-g"><text class="t" x="823" y="3927">二、工作中存在的问题与不足:</text></g>
<g id="n-p3-g1"><text class="t" x="572" y="3833"><tspan x="572">1.对学生的书写要求不够严格，学生作业书写</tspan><tspan x="572" dy="14.2">质量较差。</tspan></text></g>
<g id="n-p3-g2"><text class="t" x="572" y="3896"><tspan x="572">2.课堂教学时间安排欠合理，经常留给学生的</tspan><tspan x="572" dy="14.2">作业时间过少。</tspan></text></g>
<g id="n-p3-g3"><text class="t" x="607" y="3959">3.对学生计算能力训练坚持不够经常。</text></g>
<g id="n-p3-g4"><text class="t" x="572" y="4008"><tspan x="572">4.后进生抓管不力，李成嘉、王浩、陶国富等</tspan><tspan x="572" dy="14.2">学生变化不大。</tspan></text></g>

<g id="n-p5"><rect class="pill" x="1005" y="4801" width="215" height="32" rx="16"/><text class="pt" x="1112" y="4817" text-anchor="middle">数学教学经验总结模板通用5</text></g>
<g id="n-p5-h"><text class="t" x="758" y="4760"><tspan x="758">本学期，我适应新时期教学工作的要求，在学</tspan><tspan x="758" dy="14.2">校领导的正确领导下，我圆满的完成了本学期</tspan><tspan x="758" dy="14.2">的教学任务。立足现在，放眼未来，为使今后</tspan><tspan x="758" dy="14.2">的工作取得更大的进步，现对本学期教学工作</tspan><tspan x="758" dy="14.2">做出总结，希望能发扬优点，克服不足，总结</tspan><tspan x="758" dy="14.2">经验教训，继往开来，以促进教学工作更上一</tspan><tspan x="758" dy="14.2">层楼。这半年的教学经历，是忙碌的半年;是</tspan><tspan x="758" dy="14.2">充满艰辛的半年;也是收获喜悦的半年。现就</tspan><tspan x="758" dy="14.2">这半年的工作总结如下:</tspan></text></g>
<g id="n-p5-s1"><text class="t" x="660" y="4091">一、思想认识</text></g>
<g id="n-p5-s1a"><text class="t" x="408" y="4070"><tspan x="408">在这一个学期里，我在思想上严于律己，热爱</tspan><tspan x="408" dy="14.2">党的教育事业。教育目的明确，态度端正，钻</tspan><tspan x="408" dy="14.2">研业务，勤奋刻苦;工作认真负责，关心学生</tspan><tspan x="408" dy="14.2">，爱护学生，为人师表，有奉献精神。</tspan></text></g>
<g id="n-p5-s2"><text class="t" x="660" y="4584">二、教学工作</text></g>
<g id="n-p5-k1"><text class="t" x="567" y="4341">(一)几点看法</text></g>
<g id="n-p5-k1-1"><text class="t" x="397" y="4204">1、认真重视数学概念的掌握</text></g>
<g id="n-p5-k1-1a"><text class="t" x="145" y="4162"><tspan x="145">数学概念是数学基础知识，是考生必须牢固而</tspan><tspan x="145" dy="14.2">又熟练掌握的内容之一，它也是中考数学所考</tspan><tspan x="145" dy="14.2">查的重点内容。对于重要的数学概念，考生尤</tspan><tspan x="145" dy="14.2">其需要正确理解和熟练掌握，达到运用自如的</tspan><tspan x="145" dy="14.2">程度。很多学生对数学概念掌握不牢，对一些</tspan><tspan x="145" dy="14.2">概念内容的理解只浮于表面，因而在解题中往</tspan><tspan x="145" dy="14.2">往无从下手或者导致各种错误。</tspan></text></g>
<g id="n-p5-k1-2"><text class="t" x="451" y="4324">2、掌握公式定理</text></g>
<g id="n-p5-k1-2a"><text class="t" x="199" y="4296"><tspan x="199">数学定理公式是数学的基础知识，学生必须认</tspan><tspan x="199" dy="14.2">真对待，熟练掌握。要使学生懂得正确理解，</tspan><tspan x="199" dy="14.2">熟练掌握定理公式，并能正确灵活运用定理公</tspan><tspan x="199" dy="14.2">式去解题，往往会化繁为简、化难为易，达到</tspan><tspan x="199" dy="14.2">事半功倍的效果。</tspan></text></g>
<g id="n-p5-k1-3"><text class="t" x="408" y="4416">3、认证抓基本运算的训练</text></g>
<g id="n-p5-k1-3a"><text class="t" x="156" y="4402"><tspan x="156">运算的快速、准确是中考考查的内容之一，在</tspan><tspan x="156" dy="14.2">选好练习题的前提之下，要让学生多练习，提</tspan><tspan x="156" dy="14.2">高运算能力，以练取胜</tspan></text></g>
<g id="n-p5-k1-4"><text class="t" x="420" y="4479">4、重点抓解答题的训练</text></g>
<g id="n-p5-k2"><text class="t" x="557" y="4828">(二)具体的做法</text></g>
<g id="n-p5-k2-0"><text class="t" x="304" y="4528"><tspan x="304">讲到方法，这是一个很具体很灵活的问题，它</tspan><tspan x="304" dy="14.2">对不同学校不同基础的学生而采用的手段。我</tspan><tspan x="304" dy="14.2">的教学特点是"高、难、细"。实施手段是教师</tspan><tspan x="304" dy="14.2">讲题或学生做题都要求做到"伤其十指，不如</tspan><tspan x="304" dy="14.2">断其一指"。学生练_独立完成，不能依赖别人</tspan><tspan x="304" dy="14.2">找答案。解题务必透彻弄懂弄通，并能触内旁</tspan><tspan x="304" dy="14.2">通，达到举一反三。要求学生做到或逐步做到</tspan><tspan x="304" dy="14.2">。不看则已，一看就要看得出来;不做而已，</tspan><tspan x="304" dy="14.2">一做就要做对。</tspan></text></g>
<g id="n-p5-k2-1"><text class="t" x="396" y="4805">1、数学特点：高、难、细</text></g>
<g id="n-p5-k2-1a"><text class="t" x="145" y="4689"><tspan x="145">高：用中考的高度、中考的题目所达到的水平</tspan><tspan x="145" dy="14.2">进行教学，每复习一个概念、定理、公式，每</tspan><tspan x="145" dy="14.2">讲一道例题或布置作业，都站在或尽量站在中</tspan><tspan x="145" dy="14.2">考的高度来要求。难：复习的起点较高，例题</tspan><tspan x="145" dy="14.2">和布置练习，不论低、中、高档题，都要求有</tspan><tspan x="145" dy="14.2">一定思考性，即有一定的难度。力求多选一些</tspan><tspan x="145" dy="14.2">重点突出、难度适当、知识覆盖面较大的题目</tspan><tspan x="145" dy="14.2">。</tspan></text></g>
<g id="n-p5-k2-1b"><text class="t" x="145" y="4837"><tspan x="145">细：要做到高与难，细就显得尤其重要和突出</tspan><tspan x="145" dy="14.2">。复习要扎实，狠抓三基，要不惜花力气复习</tspan><tspan x="145" dy="14.2">好每个概念、定理、公式。掌握每本书知识的</tspan><tspan x="145" dy="14.2">内在联系和各种题型的基本解法，对重要概念</tspan><tspan x="145" dy="14.2">、定理、公式一定要弄懂其内涵和外延，只有</tspan><tspan x="145" dy="14.2">细，才可能达到高和难。</tspan></text></g>
<g id="n-p5-k2-2"><text class="t" x="304" y="5059"><tspan x="304">2、教学手段是"伤其十指，不如断其一指"，</tspan><tspan x="304" dy="14.2">题不在于多，而在于精，精练的题目越多越好</tspan><tspan x="304" dy="14.2">。</tspan></text></g>
<g id="n-p5-k2-2a"><text class="t" x="88" y="4957"><tspan x="88">解和熟练掌握概念、定理、公式的一个</tspan><tspan x="88" dy="14.2">段是做题，提高数学能力的主要手段也</tspan><tspan x="88" dy="14.2">。我的做法是：讲例题或学生做题，都</tspan><tspan x="88" dy="14.2">到"伤其十指，不如断其一指"。弄通弄</tspan><tspan x="88" dy="14.2">道题，才能触类旁通，举一反三，这远</tspan><tspan x="88" dy="14.2">题或一般化做几题效果好得多。一题多</tspan><tspan x="88" dy="14.2">题多串、一空多填、一问多答、一图多</tspan><tspan x="88" dy="14.2">及一题多解或多证等，是培养和训练学</tspan><tspan x="88" dy="14.2">散思维的好方法。</tspan></text></g>
<g id="n-p5-k2-2b"><text class="t" x="88" y="5118"><tspan x="88">我的做法简单的说，不惜花力气抓好三</tspan><tspan x="88" dy="14.2">有代表性的典型题目，力图达到高难程</tspan></text></g>
<g id="n-p5-s3"><text class="t" x="660" y="5312">三、教育工作</text></g>
<g id="n-p5-s3a"><text class="t" x="408" y="5196"><tspan x="408">育人是学校工作中的重中之重，而育人的秘诀</tspan><tspan x="408" dy="14.2">就是"爱"。师爱是伟大的、神圣的。师爱是人</tspan><tspan x="408" dy="14.2">类复杂情感中最高尚的情感，它凝结着教师无</tspan><tspan x="408" dy="14.2">私奉献的精神。师爱是"超凡脱俗"的爱，这种</tspan><tspan x="408" dy="14.2">爱没有血源和亲情，没有私利与目的，然而这</tspan><tspan x="408" dy="14.2">种爱却有一种巨大的力量。爱学生要深入地爱</tspan><tspan x="408" dy="14.2">，爱学生要理智地爱。就是要严格要求学生，</tspan><tspan x="408" dy="14.2">对学生不娇惯、不溺爱。对其缺点错误，不纵</tspan><tspan x="408" dy="14.2">容、不姑息、不放任。</tspan></text></g>
<g id="n-p5-s3b"><text class="t" x="408" y="5357"><tspan x="408">师爱既蕴含着强烈的情感色彩，又表现出深刻</tspan><tspan x="408" dy="14.2">的理智，不仅着眼于学生目前的得失和苦乐，</tspan><tspan x="408" dy="14.2">更注重学生未来的发展和前途。</tspan></text></g>
<g id="n-p5-s4"><text class="t" x="627" y="5544">四、工作反思和改进</text></g>
<g id="n-p5-s4a"><text class="t" x="376" y="5435"><tspan x="376">1、到初三才真正体会到曾经的知识漏洞是多</tspan><tspan x="376" dy="14.2">么的难以弥补,尽管老师和学生都非常努力,但</tspan><tspan x="376" dy="14.2">对于学习能力和学习基础本来就薄弱的同学而</tspan><tspan x="376" dy="14.2">言太难赶上了,尤其他们一次次考试还不及格</tspan><tspan x="376" dy="14.2">时丧失的信心,使学习难上加难,当时我就想在</tspan><tspan x="376" dy="14.2">再次面对学生时,软磨硬泡要从头开始,而不是</tspan><tspan x="376" dy="14.2">到毕业班再加劲。</tspan></text></g>
<g id="n-p5-s4b"><text class="t" x="376" y="5575"><tspan x="376">2、忙乱中渡过了一年的时间,回头思考感觉缺</tspan><tspan x="376" dy="14.2">少了反思回顾与教研工作,要想提高成绩,必须</tspan><tspan x="376" dy="14.2">有与时俱进的理论指导,教育教学也需要寻求</tspan><tspan x="376" dy="14.2">捷径,在以后的教学过程中我们将加强教科研</tspan><tspan x="376" dy="14.2">工作,不断借鉴他人的经验,不断提高自己的业</tspan><tspan x="376" dy="14.2">务水平,争取教育教学工作再上新台阶。</tspan></text></g>
<g id="n-p5-s4c"><text class="t" x="123" y="5568"><tspan x="123">总之，在这学期的教学工作中收获了很多，提</tspan><tspan x="123" dy="14.2">高了很多，同时也感受到了自己的不足。在今</tspan><tspan x="123" dy="14.2">后的工作中，应不断提高自己的业务能力、充</tspan><tspan x="123" dy="14.2">实自己的业务理论水平、提高自己在学生管理</tspan><tspan x="123" dy="14.2">方面的能力、注重细节工作，一如既往的兢兢</tspan><tspan x="123" dy="14.2">业业、勤奋钻研，尽量使自己的各项工作做得</tspan><tspan x="123" dy="14.2">更扎实、更完善、更有效、更实在。</tspan></text></g>

<g id="n-intro"><rect class="pill" x="1549" y="1613" width="343" height="126" rx="60"/><text class="pt" x="1611" y="1628"><tspan x="1611">教师在教学中要以自己丰富的知识</tspan><tspan x="1611" dy="19.2">、高超的解题方法和敏锐的洞察能</tspan><tspan x="1611" dy="19.2">力感染学生，使学生对你产生敬佩</tspan><tspan x="1611" dy="19.2">感，从而产生学好数学的良好愿望</tspan><tspan x="1611" dy="19.2">。下面是树图网为大家准备2021数</tspan><tspan x="1611" dy="19.2">学教师教学工作总结，欢迎参阅。</tspan></text></g>

<g id="n-p2"><rect class="pill" x="1549" y="2478" width="208" height="32" rx="16"/><text class="pt" x="1653" y="2494" text-anchor="middle">数学教学经验总结模板通用2</text></g>
<g id="n-p2-q"><text class="t" x="1784" y="2466"><tspan x="1784">本学期，我担任本校小学三年级的数学教学工</tspan><tspan x="1784" dy="14.2">作。一学期来，我自始至终以认真，严谨的治</tspan><tspan x="1784" dy="14.2">学态度、勤恳、坚持不懈的精神从事教学工作</tspan><tspan x="1784" dy="14.2">。转眼间就到了期末，现结合本学期的教育教</tspan><tspan x="1784" dy="14.2">学情况，特作总结如下:</tspan></text></g>
<g id="n-p2-r1"><text class="t" x="2034" y="2017"><tspan x="2034">一、激发学生学习兴趣，让他们能够感受成功</tspan><tspan x="2034" dy="14.2">、体验到学习数学的快乐</tspan></text></g>
<g id="n-p2-t1"><text class="t" x="2287" y="1776"><tspan x="2287">本班学生，在起始年级时基础较差</tspan><tspan x="2287" dy="14.2">的递增，数学知识点的增多，知识</tspan><tspan x="2287" dy="14.2">学生越来越感到学习数学的困难，</tspan><tspan x="2287" dy="14.2">样的解题方法更是无法应对，就学</tspan><tspan x="2287" dy="14.2">是心有余而力不足。为此，我采取</tspan><tspan x="2287" dy="14.2">让学生感到学数学不难：上课时我</tspan><tspan x="2287" dy="14.2">计一些简单的问题叫学习困难的学</tspan><tspan x="2287" dy="14.2">让他们板演一些基本的计算题，激</tspan><tspan x="2287" dy="14.2">的解答，并在适时的时候予以提示</tspan><tspan x="2287" dy="14.2">在老师善意的帮助下顺利的解答，</tspan><tspan x="2287" dy="14.2">理上感到解决数学问题不是太难，</tspan><tspan x="2287" dy="14.2">本的方法是可以触类旁通的;第一项</tspan><tspan x="2287" dy="14.2">，我采取得第二步是在讲课时把知</tspan><tspan x="2287" dy="14.2">方法，以学生常见的范例、经常接</tspan><tspan x="2287" dy="14.2">数学问题为例，加以有声有色的描</tspan><tspan x="2287" dy="14.2">感到学数学很有用，数学问题解决</tspan><tspan x="2287" dy="14.2">话，会影响自己的将来，要好好学</tspan></text></g>
<g id="n-p2-t2"><text class="t" x="2287" y="2051"><tspan x="2287">因为需要而产生学习数学的兴趣;学</tspan><tspan x="2287" dy="14.2">被激发后，我首先想到的是保持，</tspan><tspan x="2287" dy="14.2">学生的作业上来反馈，将学生的问</tspan><tspan x="2287" dy="14.2">添油加醋的加以评价，再就是通过</tspan><tspan x="2287" dy="14.2">富多彩的数学活动，如讲数学家的</tspan><tspan x="2287" dy="14.2">些数学小竞赛，小组合作、作业评</tspan><tspan x="2287" dy="14.2">价等等，主动发掘学生的闪光点，</tspan><tspan x="2287" dy="14.2">性得以张扬，努力营造一个学数学</tspan><tspan x="2287" dy="14.2">，让学生体验学数学和做数学的快</tspan><tspan x="2287" dy="14.2">从思想上逐步扭转对数学的枯燥印</tspan><tspan x="2287" dy="14.2">我利用各种机会，经常给不同层次</tspan><tspan x="2287" dy="14.2">感，让每一位同学都能体验到学习</tspan><tspan x="2287" dy="14.2">与快乐。至本学期末，成效显著：</tspan><tspan x="2287" dy="14.2">敢于大胆回答问题了，其次是能基</tspan><tspan x="2287" dy="14.2">述解题思路了，再次就是作业正确</tspan><tspan x="2287" dy="14.2">测试情况也有了较为明显的好转。</tspan></text></g>
<g id="n-p2-r2"><text class="t" x="2036" y="2404"><tspan x="2036">二、认真钻研业务，努力提高教室40分钟的</tspan><tspan x="2036" dy="14.2">教学效率</tspan></text></g>
<g id="n-p2-t3"><text class="t" x="2288" y="2311"><tspan x="2288">在业务上我主动利用各种机会，学</tspan><tspan x="2288" dy="14.2">新理念，主动参加网络教研活动，</tspan><tspan x="2288" dy="14.2">客内容(教室教学中的案例、反思、</tspan><tspan x="2288" dy="14.2">笔等)，潜心钻研教材教法，认真备</tspan><tspan x="2288" dy="14.2">上课，坚持不懈地进行"自我充电"</tspan><tspan x="2288" dy="14.2">己的业务理论水平。教室上，我把</tspan><tspan x="2288" dy="14.2">程理念结合本班实际，努力贯彻到</tspan><tspan x="2288" dy="14.2">去，以期提高教室40分钟的效率。</tspan><tspan x="2288" dy="14.2">经常与同事们一起探讨教学过程中</tspan><tspan x="2288" dy="14.2">问题，互相学习，共同提高;我还组</tspan><tspan x="2288" dy="14.2">学撰写一些自己平时的和经验总结</tspan><tspan x="2288" dy="14.2">从中，我更是感受到了学无止境的</tspan><tspan x="2288" dy="14.2">分发挥教室教学这个"主阵地"的作</tspan><tspan x="2288" dy="14.2">室40分钟的效率，我们要与时俱进</tspan><tspan x="2288" dy="14.2">懈地学习探究教学新理论新实践。</tspan></text></g>
<g id="n-p2-r3"><text class="t" x="2036" y="2652"><tspan x="2036">三、关爱学生与严格要求相结合，尽量使每一</tspan><tspan x="2036" dy="14.2">位学生进步</tspan></text></g>
<g id="n-p2-t4"><text class="t" x="2288" y="2559"><tspan x="2288">亲其师，才能信其道。在平时与学</tspan><tspan x="2288" dy="14.2">程中，我不以"师长"自居，尽量与</tspan><tspan x="2288" dy="14.2">往，建立"朋友式"的深厚友谊，努</tspan><tspan x="2288" dy="14.2">位学生的成长。与学生多谈心，帮</tspan><tspan x="2288" dy="14.2">学习上与生活上的各种困惑。同时</tspan><tspan x="2288" dy="14.2">调皮的学生，也实行严格要求、正</tspan><tspan x="2288" dy="14.2">法，让他们树立起正确的荣辱观。</tspan><tspan x="2288" dy="14.2">纪律是提高教室效率的重要保证。</tspan><tspan x="2288" dy="14.2">的学生，我既要关爱大部分学生，</tspan><tspan x="2288" dy="14.2">别不守纪律的捣蛋分子实行严格要</tspan><tspan x="2288" dy="14.2">，我尽量做到分层施教与个别辅导</tspan><tspan x="2288" dy="14.2">余，我让优秀学生与"学困生"实行</tspan><tspan x="2288" dy="14.2">对子，互帮互助，共同提高。一年</tspan><tspan x="2288" dy="14.2">原本薄弱的基础，逐步得以夯实，</tspan><tspan x="2288" dy="14.2">成绩有了稳步提高。</tspan></text></g>
<g id="n-p2-r4"><text class="t" x="2036" y="2965">四、总结得失，以励再战</text></g>
<g id="n-p2-u1"><text class="t" x="2188" y="2807"><tspan x="2188">1、取得的成绩：在我的努力带动下，学困生</tspan><tspan x="2188" dy="14.2">的脸庞有了笑容了，作业基本能按时按量的完</tspan><tspan x="2188" dy="14.2">成了，学生们的学习兴趣较以前提高了，学习</tspan><tspan x="2188" dy="14.2">的态度也改变了不少，本学期的单元检测大部</tspan><tspan x="2188" dy="14.2">分同学都有了不同程度的提高。</tspan></text></g>
<g id="n-p2-u2"><text class="t" x="2188" y="2911"><tspan x="2188">2、存在的不足：部分学生多年来形成的一些</tspan><tspan x="2188" dy="14.2">不良和习惯，还有待进一步规范和引导;学困</tspan><tspan x="2188" dy="14.2">生在起始年级的知识空缺(口算乘除法)直接影</tspan><tspan x="2188" dy="14.2">响着计算的效率与质量，随着年级的增高表现</tspan><tspan x="2188" dy="14.2">也越来越明显;学习成绩虽然有所进步，但许</tspan><tspan x="2188" dy="14.2">多方面还有很大的提升空间;老师的付出与学</tspan><tspan x="2188" dy="14.2">生知识掌握的反馈(作业、成绩)使老师产生急</tspan><tspan x="2188" dy="14.2">躁的情绪。</tspan></text></g>
<g id="n-p2-u3"><text class="t" x="2188" y="3060"><tspan x="2188">3、努力方向：今后，我将继续本着"教到老</tspan><tspan x="2188" dy="14.2">，学到老"的精神，改变急躁的情绪，不断探</tspan><tspan x="2188" dy="14.2">讨提高学生学习兴趣、促进学生全面发展的有</tspan><tspan x="2188" dy="14.2">效机制;继续保持与学生父母的紧密联系，共</tspan><tspan x="2188" dy="14.2">同配合，把我们的下一代教育好，培养好，争</tspan><tspan x="2188" dy="14.2">取个人成长与学生成长实现双丰收。</tspan></text></g>

<g id="n-p4"><rect class="pill" x="1549" y="3516" width="210" height="32" rx="16"/><text class="pt" x="1654" y="3532" text-anchor="middle">数学教学经验总结模板通用4</text></g>
<g id="n-p4-v1"><text class="t" x="1784" y="3179"><tspan x="1784">在20_—20_学年第二学期本人担任初三(8)班</tspan><tspan x="1784" dy="14.2">的数学教学工作。在本学期中，从各方面严格</tspan><tspan x="1784" dy="14.2">要求自己，结合本校的实际条件和学生的实际</tspan><tspan x="1784" dy="14.2">情况，勤勤恳恳，兢兢业业，使教学工作有计</tspan><tspan x="1784" dy="14.2">划，有步骤地开展。主要做了以下几个方面的</tspan><tspan x="1784" dy="14.2">工作。</tspan></text></g>
<g id="n-p4-v2"><text class="t" x="1784" y="3299"><tspan x="1784">一、钻研教材，认真备课 认真备课，不但备</tspan><tspan x="1784" dy="14.2">学生而且备教材备教法，根据教材内容及学生</tspan><tspan x="1784" dy="14.2">的实际，设计课的类型，拟定采用的教学方法</tspan><tspan x="1784" dy="14.2">，并对教学过程的程序及时间安排都作了详细</tspan><tspan x="1784" dy="14.2">的记录，认真写好教案。每一课都做到"有备</tspan><tspan x="1784" dy="14.2">而来"，每堂课都在课前做好充分的准备，并</tspan><tspan x="1784" dy="14.2">制作各种利于吸引学生注意力的有趣教具，课</tspan><tspan x="1784" dy="14.2">后及时对该课作出总结，写好教学后记，并认</tspan><tspan x="1784" dy="14.2">真按搜集每课书的知识要点，归纳成集。</tspan></text></g>
<g id="n-p4-v3"><text class="t" x="1784" y="3461"><tspan x="1784">二、继续开展听课工作与教研活动 作为一个</tspan><tspan x="1784" dy="14.2">教学工作者，教学经验，方法与手段都有不足</tspan><tspan x="1784" dy="14.2">之处，因此，在本学期中，我积极参加听课活</tspan><tspan x="1784" dy="14.2">动和课组的教研活动，吸取其它教师的优秀经</tspan><tspan x="1784" dy="14.2">验，以补自身的不足。</tspan></text></g>
<g id="n-p4-v4"><text class="t" x="1784" y="3566"><tspan x="1784">三、加强引导,因材施教，增强师生之间学生</tspan><tspan x="1784" dy="14.2">之间交往互动，共同发展 紧扣新课程标准，</tspan><tspan x="1784" dy="14.2">以"自主——创新"的教学模式，把课堂教学</tspan><tspan x="1784" dy="14.2">作为有利于学生主动探索的数学学习环境，把</tspan><tspan x="1784" dy="14.2">学生在获得知识和技能的同时，在情感、态度</tspan><tspan x="1784" dy="14.2">价值观等方面都能够充分发展作为教学改革的</tspan><tspan x="1784" dy="14.2">基本指导思想，把数学教学看成是师生之间学</tspan><tspan x="1784" dy="14.2">生之间交往互动，共同发展的过程。学生成了</tspan><tspan x="1784" dy="14.2">学习的主人，学习成了他们的需求，学中有发</tspan><tspan x="1784" dy="14.2">现，学中有乐趣，学中有收获。</tspan></text></g>
<g id="n-p4-v5"><text class="t" x="1784" y="3743"><tspan x="1784">四、注意查漏补缺，培优辅差 作为教学者，</tspan><tspan x="1784" dy="14.2">在教学工作中，总会有一些偏差，很有必要进</tspan><tspan x="1784" dy="14.2">行总结和提高。因此，在教学课后，我根据学</tspan><tspan x="1784" dy="14.2">生上课的表现，认真分析不足之处，作好记录</tspan><tspan x="1784" dy="14.2">，做到查漏补缺。并根据学生的分层情况，做</tspan><tspan x="1784" dy="14.2">好培优辅差工作。本学期中，在极其不利的情</tspan><tspan x="1784" dy="14.2">况下，备课组各位同事的团结合作，努力奋进</tspan><tspan x="1784" dy="14.2">，克服困难，中考取得了很好的成绩。中考合</tspan><tspan x="1784" dy="14.2">格率：69.5%，优秀率：36.6%，合格率镇第</tspan><tspan x="1784" dy="14.2">一，优秀率镇第二。本教学班的格率为53.85</tspan><tspan x="1784" dy="14.2">%，优秀率为17.31%。但由于本人第一次接</tspan><tspan x="1784" dy="14.2">触新教材，教学经验不足，教学方法、手段，</tspan><tspan x="1784" dy="14.2">以及教学技巧等方面都不够完善。这些都有待</tspan><tspan x="1784" dy="14.2">于在以后的教学过程中，进一步完善与提高。</tspan><tspan x="1784" dy="14.2">希望以后能发扬优点，克服不足，总结检验教</tspan><tspan x="1784" dy="14.2">训，以促进教学工作更上一层楼。</tspan></text></g>

<g id="n-p6"><rect class="pill" x="1549" y="4198" width="269" height="50" rx="25"/><text class="pt" x="1573" y="4213.5"><tspan x="1573">数学教学经验总结模板通用相关文</tspan><tspan x="1573" dy="19">章</tspan></text></g>
<g id="n-p6-items">
<text class="t" x="1845" y="4003">★ 数学教学工作总结通用模板2021</text>
<text class="t" x="1845" y="4052">★ 数学教学任务总结通用模板2021</text>
<text class="t" x="1845" y="4101">★ 数学教学经验总结模板2021</text>
<text class="t" x="1845" y="4150">★ 数学课堂教学工作总结通用模板2021</text>
<text class="t" x="1845" y="4199">★ 数学教学工作反思总结通用模板2021</text>
<text class="t" x="1845" y="4248">★ 数学期末教学工作总结通用模板2021</text>
<text class="t" x="1845" y="4297">★ 数学教学反思总结模板通用2021</text>
<text class="t" x="1845" y="4346">★ 数学教师教学工作总结模板5篇</text>
<text class="t" x="1845" y="4395">★ 数学课堂教学工作总结模板2021</text>
<text class="t" x="1845" y="4444">★ 2021学年数学工作总结模板</text>
</g>

<g id="watermark">
<text class="wm" transform="translate(350 700) rotate(-31.4)">树图 shutu.cn</text>
<text class="wm" transform="translate(350 1700) rotate(-31.4)">树图 shutu.cn</text>
<text class="wm" transform="translate(350 2700) rotate(-31.4)">树图 shutu.cn</text>
<text class="wm" transform="translate(350 3700) rotate(-31.4)">树图 shutu.cn</text>
<text class="wm" transform="translate(350 4700) rotate(-31.4)">树图 shutu.cn</text>
<text class="wm" transform="translate(350 5700) rotate(-31.4)">树图 shutu.cn</text>
<text class="wm" transform="translate(1640 720) rotate(-31.4)">树图 shutu.cn</text>
<text class="wm" transform="translate(1640 1720) rotate(-31.4)">树图 shutu.cn</text>
<text class="wm" transform="translate(1640 2720) rotate(-31.4)">树图 shutu.cn</text>
<text class="wm" transform="translate(1640 3720) rotate(-31.4)">树图 shutu.cn</text>
<text class="wm" transform="translate(1640 4720) rotate(-31.4)">树图 shutu.cn</text>
</g>
</g>
</svg>
